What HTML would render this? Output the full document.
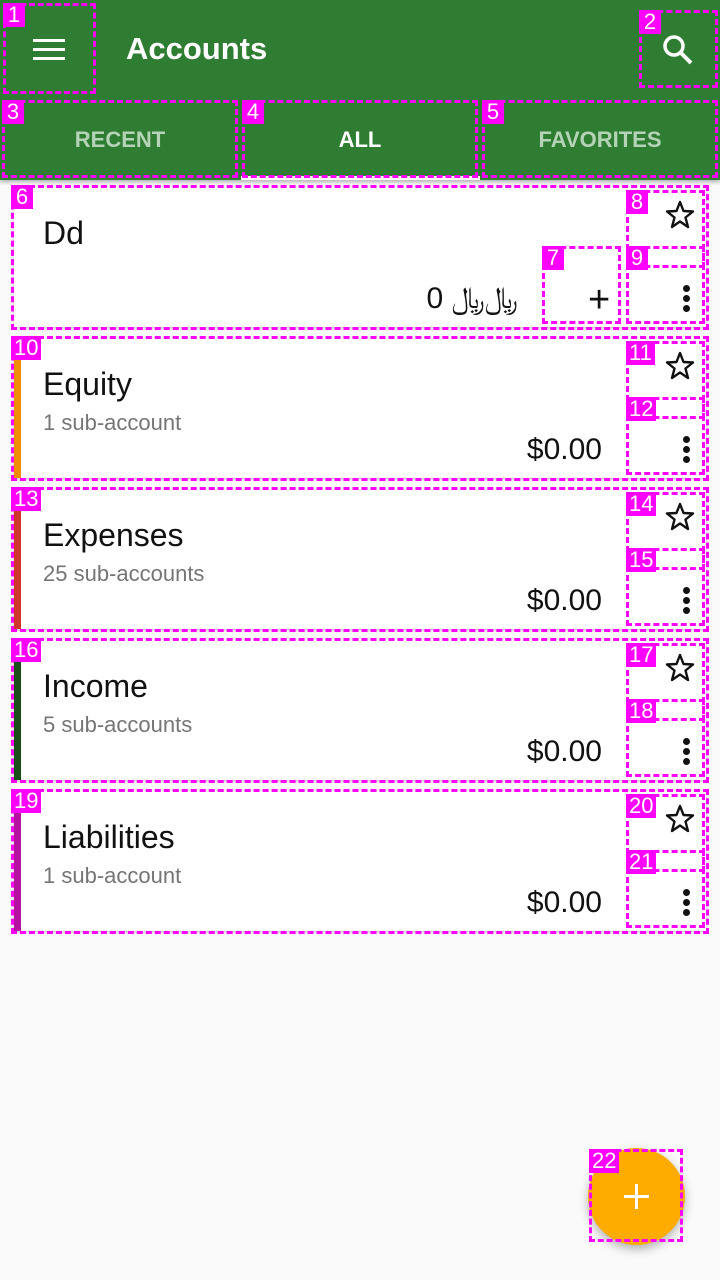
<!DOCTYPE html>
<html><head><meta charset="utf-8">
<style>
*{box-sizing:border-box;margin:0;padding:0}
body{width:720px;height:1280px;background:#fafafa;font-family:"Liberation Sans","DejaVu Sans",sans-serif;position:relative;overflow:hidden}
.abs{position:absolute}
.box{position:absolute;border:3px dashed #ff00ff;pointer-events:none}
.lbl{position:absolute;left:-3px;top:-3px;background:#ff00ff;color:#fff;font-size:22px;line-height:24px;padding:0 3px;min-width:22px;text-align:center}
.card{position:absolute;left:14px;width:692px;height:140px;background:#fff;box-shadow:0 1px 3px rgba(0,0,0,.25)}
.bar{position:absolute;left:0;top:8px;bottom:0;width:7px}
.title{position:absolute;left:29px;top:28px;font-size:32px;color:#111}
.sub{position:absolute;left:29px;top:72px;font-size:22px;color:#757575}
.amt{position:absolute;right:104px;top:95px;font-size:30px;color:#111}
.star{position:absolute;left:651px;top:13px}
.dots{position:absolute;left:666px;top:98px;width:12px;height:30px}
.dots i{display:block;width:7px;height:7px;border-radius:4px;background:#111;margin:0 auto 3px}
</style></head><body>
<svg width="0" height="0" style="position:absolute"><defs><symbol id="st" viewBox="0 0 30 30"><polygon points="15,2 18.5,11 28,11.5 20.5,17.5 23,27 15,21.5 7,27 9.5,17.5 2,11.5 11.5,11" fill="none" stroke="#111" stroke-width="2.4" stroke-linejoin="round"/></symbol></defs></svg>
<div class="abs" style="left:0;top:0;width:720px;height:180px;background:#2e7d32;box-shadow:0 2px 4px rgba(0,0,0,.3)">
  <div class="abs" style="left:33px;top:39px;width:32px;height:22px">
    <div style="height:3px;background:#fff;margin-bottom:6px"></div><div style="height:3px;background:#fff;margin-bottom:6px"></div><div style="height:3px;background:#fff"></div>
  </div>
  <div class="abs" style="left:126px;top:31px;font-size:31px;color:#fff;font-weight:bold">Accounts</div>
  <svg class="abs" style="left:660px;top:32px" width="36" height="36" viewBox="0 0 36 36"><circle cx="14" cy="14" r="9" stroke="#fff" stroke-width="3.5" fill="none"/><line x1="21" y1="21" x2="31" y2="31" stroke="#fff" stroke-width="4"/></svg>
  <div class="abs" style="left:0;top:100px;width:240px;height:80px;line-height:80px;text-align:center;color:#b5d3b6;font-size:22px;font-weight:bold">RECENT</div>
  <div class="abs" style="left:240px;top:100px;width:240px;height:80px;line-height:80px;text-align:center;color:#fff;font-size:22px;font-weight:bold">ALL</div>
  <div class="abs" style="left:480px;top:100px;width:240px;height:80px;line-height:80px;text-align:center;color:#b5d3b6;font-size:22px;font-weight:bold">FAVORITES</div>
  <div class="abs" style="left:241px;top:176px;width:239px;height:4px;background:#fff"></div>
</div>

<div class="card" style="top:187px">
  <div class="title">Dd</div>
  <div class="amt" style="right:188px">0 ﷼﷼</div>
  <div class="abs" style="left:574px;top:92px;font-size:38px;color:#111">+</div>
  <svg class="star" width="30" height="30"><use href="#st"/></svg>
  <div class="dots"><i></i><i></i><i></i></div>
</div>
<div class="card" style="top:338px">
  <div class="bar" style="background:#ef8c00"></div>
  <div class="title">Equity</div>
  <div class="sub">1 sub-account</div>
  <div class="amt">$0.00</div>
  <svg class="star" width="30" height="30"><use href="#st"/></svg>
  <div class="dots"><i></i><i></i><i></i></div>
</div>
<div class="card" style="top:489px">
  <div class="bar" style="background:#d0372c"></div>
  <div class="title">Expenses</div>
  <div class="sub">25 sub-accounts</div>
  <div class="amt">$0.00</div>
  <svg class="star" width="30" height="30"><use href="#st"/></svg>
  <div class="dots"><i></i><i></i><i></i></div>
</div>
<div class="card" style="top:640px">
  <div class="bar" style="background:#1b4d1b"></div>
  <div class="title">Income</div>
  <div class="sub">5 sub-accounts</div>
  <div class="amt">$0.00</div>
  <svg class="star" width="30" height="30"><use href="#st"/></svg>
  <div class="dots"><i></i><i></i><i></i></div>
</div>
<div class="card" style="top:791px">
  <div class="bar" style="background:#b5139f"></div>
  <div class="title">Liabilities</div>
  <div class="sub">1 sub-account</div>
  <div class="amt">$0.00</div>
  <svg class="star" width="30" height="30"><use href="#st"/></svg>
  <div class="dots"><i></i><i></i><i></i></div>
</div>

<div class="abs" style="left:588px;top:1148px;width:97px;height:97px;border-radius:50%;background:#ffab00;box-shadow:0 4px 10px rgba(0,0,0,.3)">
  <div class="abs" style="left:36px;top:47px;width:25px;height:3px;background:#fff"></div>
  <div class="abs" style="left:47px;top:36px;width:3px;height:25px;background:#fff"></div>
</div>

<div class="box" style="left:3px;top:3px;width:93px;height:91px"><span class="lbl">1</span></div>
<div class="box" style="left:639px;top:10px;width:79px;height:78px"><span class="lbl">2</span></div>
<div class="box" style="left:2px;top:100px;width:236px;height:78px"><span class="lbl">3</span></div>
<div class="box" style="left:242px;top:100px;width:236px;height:78px"><span class="lbl">4</span></div>
<div class="box" style="left:482px;top:100px;width:236px;height:78px"><span class="lbl">5</span></div>
<div class="box" style="left:11px;top:185px;width:698px;height:145px"><span class="lbl">6</span></div>
<div class="box" style="left:542px;top:246px;width:79px;height:78px"><span class="lbl">7</span></div>
<div class="box" style="left:626px;top:190px;width:79px;height:78px"><span class="lbl">8</span></div>
<div class="box" style="left:626px;top:246px;width:79px;height:78px"><span class="lbl">9</span></div>
<div class="box" style="left:11px;top:336px;width:698px;height:145px"><span class="lbl">10</span></div>
<div class="box" style="left:626px;top:341px;width:79px;height:78px"><span class="lbl">11</span></div>
<div class="box" style="left:626px;top:397px;width:79px;height:78px"><span class="lbl">12</span></div>
<div class="box" style="left:11px;top:487px;width:698px;height:145px"><span class="lbl">13</span></div>
<div class="box" style="left:626px;top:492px;width:79px;height:78px"><span class="lbl">14</span></div>
<div class="box" style="left:626px;top:548px;width:79px;height:78px"><span class="lbl">15</span></div>
<div class="box" style="left:11px;top:638px;width:698px;height:145px"><span class="lbl">16</span></div>
<div class="box" style="left:626px;top:643px;width:79px;height:78px"><span class="lbl">17</span></div>
<div class="box" style="left:626px;top:699px;width:79px;height:78px"><span class="lbl">18</span></div>
<div class="box" style="left:11px;top:789px;width:698px;height:145px"><span class="lbl">19</span></div>
<div class="box" style="left:626px;top:794px;width:79px;height:78px"><span class="lbl">20</span></div>
<div class="box" style="left:626px;top:850px;width:79px;height:78px"><span class="lbl">21</span></div>
<div class="box" style="left:589px;top:1149px;width:94px;height:93px"><span class="lbl">22</span></div>
</body></html>
